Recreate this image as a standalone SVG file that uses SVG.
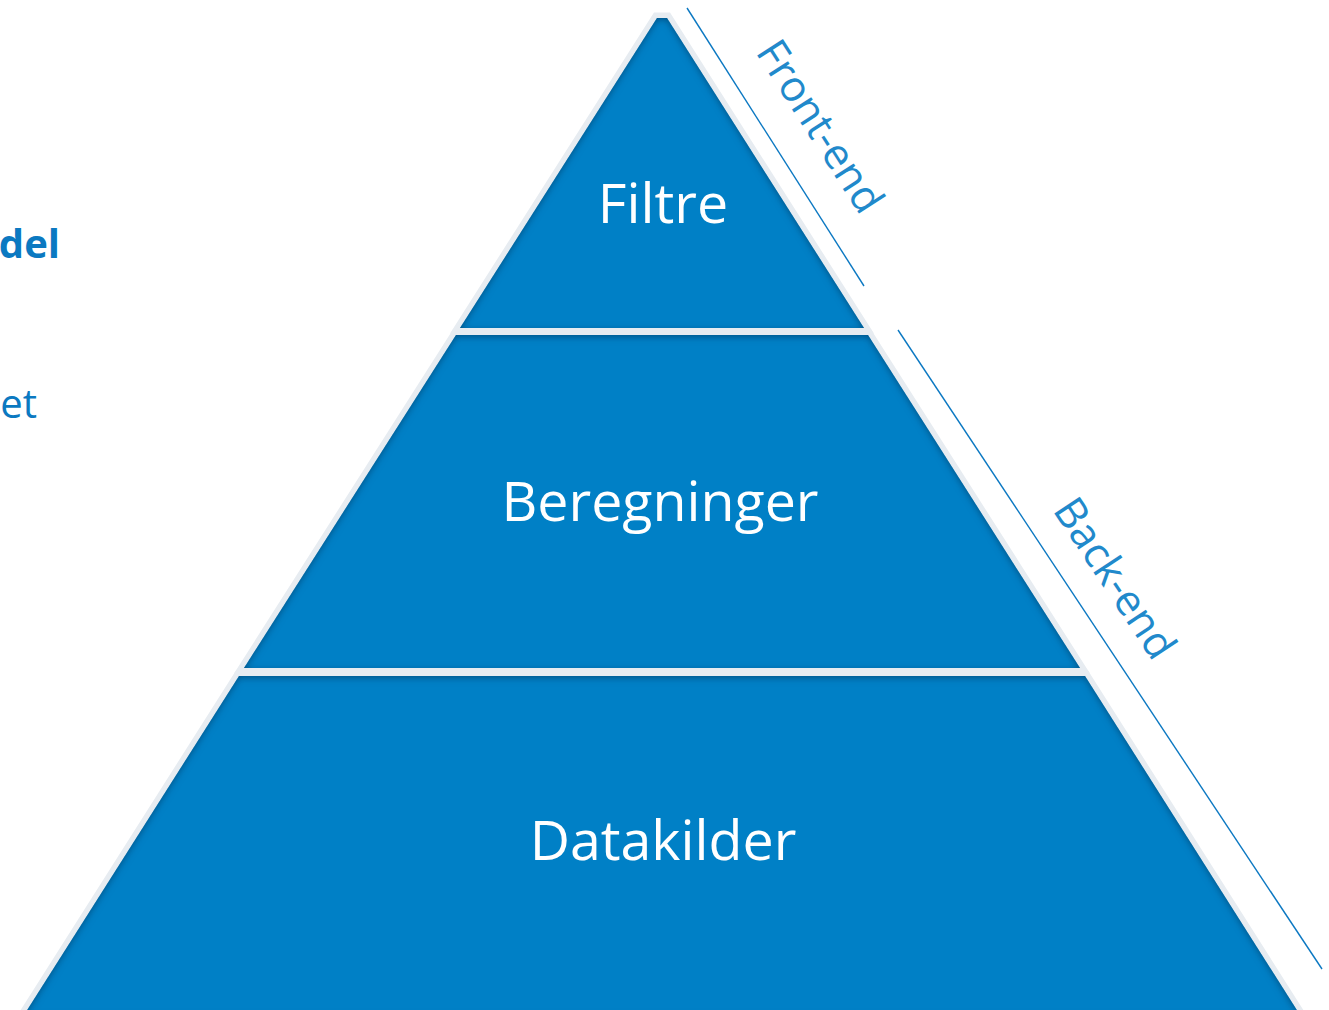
<svg xmlns="http://www.w3.org/2000/svg" width="1329" height="1010" viewBox="0 0 1329 1010">
<defs>
<style>
.rim{fill:#e7ecf1;stroke:#e7ecf1;stroke-width:11;stroke-linejoin:miter}
.tier{fill:#0180c6;filter:url(#inset)}
.tl{font-family:"Open Sans","Noto Sans",sans-serif;font-size:55.5px;fill:#ffffff;text-anchor:middle}
.side{font-family:"Open Sans","Noto Sans",sans-serif;font-size:42.5px;fill:#2189cb}
.lt{font-family:"Open Sans","Noto Sans",sans-serif;font-size:40px;fill:#0b79c1;text-anchor:end}
.guide{stroke:#0b78c2;stroke-width:1.4;fill:none}
</style>
<filter id="inset" x="-5%" y="-5%" width="110%" height="110%">
<feFlood flood-color="#003a66" flood-opacity="0.8" result="c"/>
<feComposite in="c" in2="SourceAlpha" operator="out" result="outside"/>
<feGaussianBlur in="outside" stdDeviation="3.5"/>
<feOffset dx="0" dy="2" result="sh"/>
<feComposite in="sh" in2="SourceAlpha" operator="in" result="inner"/>
<feMerge><feMergeNode in="SourceGraphic"/><feMergeNode in="inner"/></feMerge>
</filter>
</defs>
<rect width="1329" height="1010" fill="#ffffff"/>
<g id="left-text">
<text class="lt" x="60" y="258" font-weight="bold">del</text>
<text class="lt" x="37" y="418">et</text>
</g>
<g id="tier-datakilder">
<polygon class="rim" points="239,676 1085,676 1300,1015 24,1015"/>
<polygon class="tier" points="239,676 1085,676 1300,1015 24,1015"/>
<text class="tl" x="663" y="860">Datakilder</text>
</g>
<g id="tier-beregninger">
<polygon class="rim" points="456,335 868,335 1080,668 244,668"/>
<polygon class="tier" points="456,335 868,335 1080,668 244,668"/>
<text class="tl" x="660" y="521">Beregninger</text>
</g>
<g id="tier-filtre">
<polygon class="rim" points="657,18 667,18 864,328 460,328"/>
<polygon class="tier" points="657,18 667,18 864,328 460,328"/>
<text class="tl" x="663" y="223">Filtre</text>
</g>
<g id="connectors">
<line class="guide" x1="687" y1="8" x2="864" y2="286"/>
<line class="guide" x1="898" y1="330" x2="1322" y2="969"/>
</g>
<g id="label-front-end">
<text class="side" transform="translate(755,52) rotate(57.3)">Front-end</text>
</g>
<g id="label-back-end">
<text class="side" transform="translate(1052,510) rotate(56.4)">Back-end</text>
</g>
</svg>
